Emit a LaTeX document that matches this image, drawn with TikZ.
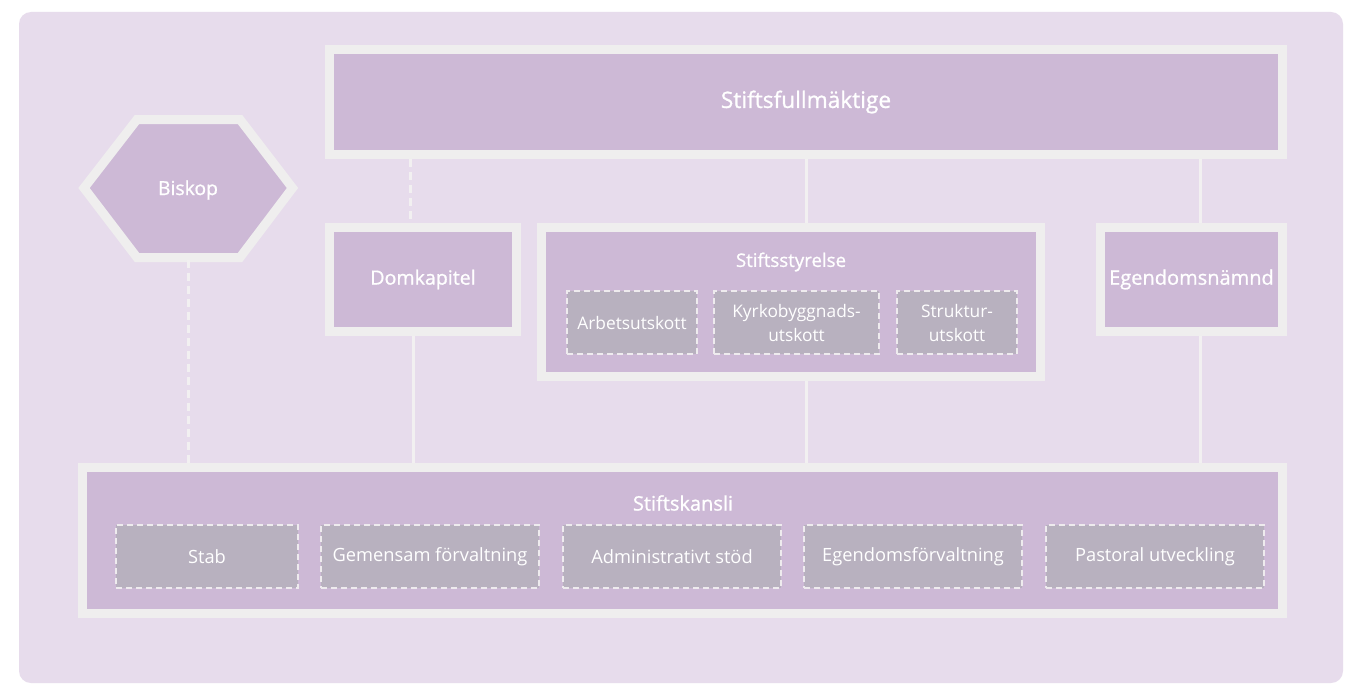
\documentclass[tikz,border=0pt]{standalone}
\usepackage{fontspec}
\setmainfont{Open Sans}
\newfontfamily\titlefont{Open Sans}[FakeBold=1]
\definecolor{bgcol}{HTML}{E7DCEC}
\definecolor{boxfill}{HTML}{CDB9D6}
\definecolor{boxborder}{HTML}{EFEEEE}
\definecolor{subfill}{HTML}{B8B1BF}
\definecolor{subborder}{HTML}{EEEBEE}
\definecolor{conncol}{HTML}{F2F0F1}
\tikzset{
  mainbox/.style={fill=boxfill, draw=boxborder, line width=6.75pt, inner sep=0pt,
    text=white, font=\titlefont\fontsize{15}{18}\selectfont, align=center},
  subbox/.style={fill=subfill, draw=subborder, line width=1.5pt, dash pattern=on 4.5pt off 3pt,
    inner sep=0pt, text=white, font=\fontsize{13}{18}\selectfont, align=center},
  titletext/.style={text=white, font=\titlefont\fontsize{15}{18}\selectfont, inner sep=0pt},
  conn/.style={draw=conncol, line width=2.25pt},
  dashconn/.style={draw=conncol, line width=2.25pt, dash pattern=on 6pt off 3.75pt},
}
\begin{document}
\begin{tikzpicture}[x=0.75pt, y=-0.75pt]
\useasboundingbox (0,0) rectangle (1345,685);
\fill[white] (0,0) rectangle (1345,685);
\fill[bgcol, rounded corners=9pt] (19,12) rectangle (1343,683);

% Biskop hexagon
\draw[fill=boxfill, draw=boxborder, line width=6.75pt, line join=miter]
  (84,188) -- (137,119.5) -- (240,119.5) -- (292.5,188) -- (240,257.5) -- (137,257.5) -- cycle;
\node[titletext, font=\titlefont\fontsize{14.5}{17}\selectfont] (bk) at (188,190) {Biskop};
\coordinate (bkbot) at (188,260);

% connectors (drawn first, boxes cover their ends)
\node[mainbox, minimum width={953*0.75pt}, minimum height={105*0.75pt}, font=\titlefont\fontsize{17}{20}\selectfont] (sf) at (806,102) {Stiftsfullmäktige};
\node[mainbox, minimum width={187*0.75pt}, minimum height={104*0.75pt}, font=\titlefont\fontsize{14.7}{18}\selectfont] (dk) at (423,279.5) {Domkapitel};
\node[mainbox, minimum width={499*0.75pt}, minimum height={149*0.75pt}] (ss) at (791,302) {};
\node[mainbox, minimum width={182*0.75pt}, minimum height={104*0.75pt}] (en) at (1191.5,279.5) {Egendomsnämnd};
\node[mainbox, minimum width={1200*0.75pt}, minimum height={146*0.75pt}] (sk) at (682.5,540.5) {};

\node[titletext, font=\titlefont\fontsize{14}{17}\selectfont] (sstitle) at (791,262) {Stiftsstyrelse};
\node[titletext] (sktitle) at (683,503) {Stiftskansli};

% sub boxes Stiftsstyrelse
\node[subbox, minimum width={130*0.75pt}, minimum height={63*0.75pt}] (au) at (632,322.5) {Arbetsutskott};
\node[subbox, minimum width={165*0.75pt}, minimum height={63*0.75pt}] (kb) at (796.5,322.5) {Kyrkobyggnads-\\utskott};
\node[subbox, minimum width={120*0.75pt}, minimum height={63*0.75pt}] (su) at (957,322.5) {Struktur-\\utskott};

% sub boxes Stiftskansli
\tikzset{kansub/.style={subbox, minimum height={63*0.75pt}, font=\fontsize{13.7}{18}\selectfont}}
\node[kansub, minimum width={182*0.75pt}] (stab) at (207,556.5) {Stab};
\node[kansub, minimum width={218*0.75pt}] (gf) at (430,556.5) {Gemensam förvaltning};
\node[kansub, minimum width={218*0.75pt}] (ad) at (672,556.5) {Administrativt stöd};
\node[kansub, minimum width={218*0.75pt}] (ef) at (913,556.5) {Egendomsförvaltning};
\node[kansub, minimum width={218*0.75pt}] (pu) at (1155,556.5) {Pastoral utveckling};

% connectors
\path[dashconn] (bkbot) -- (bkbot |- sk.north);
\path[dashconn] ([xshift=-9.75pt]dk.north |- sf.south) -- ([xshift=-9.75pt]dk.north);
\path[conn] ([xshift=-7.5pt]dk.south) -- ([xshift=-7.5pt]dk.south |- sk.north);
\path[conn] (sf.south) -- (sf.south |- ss.north);
\path[conn] (sf.south |- ss.south) -- (sf.south |- sk.north);
\path[conn] ([xshift=6.375pt]en.north |- sf.south) -- ([xshift=6.375pt]en.north);
\path[conn] ([xshift=6.375pt]en.south) -- ([xshift=6.375pt]en.south |- sk.north);
\end{tikzpicture}
\end{document}
